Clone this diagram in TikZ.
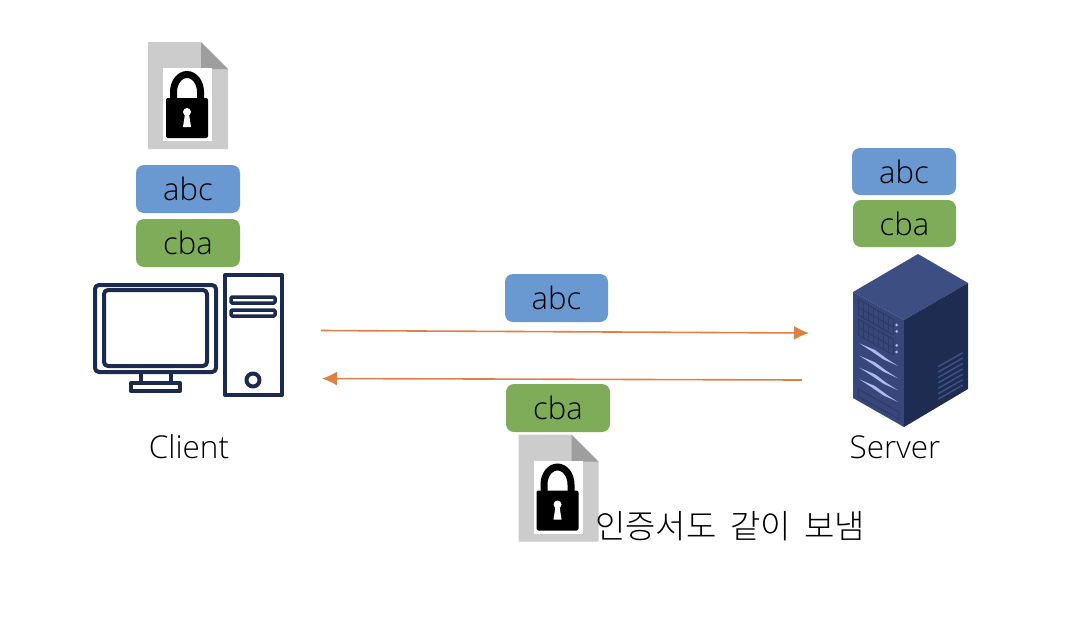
\documentclass[tikz,border=0pt]{standalone}
\usepackage{fontspec}
\setmainfont{Open Sans Light}
\newfontfamily\krfont{Noto Sans CJK KR Light}
\usetikzlibrary{arrows.meta}
\definecolor{boxblue}{HTML}{6A98D0}
\definecolor{boxgreen}{HTML}{7FAC58}
\definecolor{flow}{HTML}{E08044}
\definecolor{navy}{HTML}{1B2A4E}
\definecolor{srvtop}{HTML}{3D4F82}
\definecolor{srvleft}{HTML}{37477A}
\definecolor{srvright}{HTML}{1E2C52}
\definecolor{srvline}{HTML}{2C3A68}
\definecolor{srvlight}{HTML}{ADB9F2}
\definecolor{srvvent}{HTML}{3D4F82}
\tikzset{
  keybox/.style={rounded corners=8pt,minimum width=104pt,minimum height=48pt,inner sep=0pt,text=black,font=\fontsize{31}{32}\selectfont},
  abcbox/.style={keybox,fill=boxblue},
  cbabox/.style={keybox,fill=boxgreen},
  caption/.style={inner sep=0pt,text=black,font=\fontsize{31.5}{32}\selectfont},
  flowline/.style={flow,line width=1.6pt,-{Latex[length=15pt,width=14pt]}},
  icon/.style={navy,line width=4pt,line join=round},
  lockdoc/.pic={
    \fill[black!20] (148,42) -- (201,42) -- (228,69) -- (228,149) -- (148,149) -- cycle;
    \fill[black!38] (201,42) -- (228,69) -- (201,69) -- cycle;
    \fill[white] (163,68) rectangle (212,141);
    \draw[black,line width=7pt] (173.5,100) -- (173.5,92) arc[start angle=180,end angle=0,x radius=13.5,y radius=-17.5] -- (200.5,100);
    \fill[black,rounded corners=2pt] (166,98) rectangle (208,138);
    \fill[white] (187,112) circle[radius=4];
    \fill[white] (185,114) -- (189,114) -- (191,127) -- (183,127) -- cycle;
  }
}
\begin{document}
\begin{tikzpicture}[x=1pt,y=-1pt]
\useasboundingbox (0,0) rectangle (1084,622);
\fill[white] (0,0) rectangle (1084,622);

% documents with locks
\pic at (0,0) {lockdoc};
\pic at (370.5,392.5) {lockdoc};

% key boxes
\node[abcbox] (clientabc) at (188,189) {\raisebox{-1.5pt}{abc}};
\node[cbabox] (clientcba) at (188,243) {\raisebox{-1.5pt}{cba}};
\node[abcbox,minimum height=47pt] (serverabc) at (904,171.5) {\raisebox{-4pt}{abc}};
\node[cbabox,minimum height=47pt,minimum width=103pt] (servercba) at (904.5,223.5) {\raisebox{-4pt}{cba}};
\node[abcbox,minimum width=103pt] (midabc) at (556.5,298) {\raisebox{-2.5pt}{abc}};
\node[cbabox] (midcba) at (558,408) {\raisebox{-3pt}{cba}};

% client icon
\draw[icon,rounded corners=4pt] (95,285) rectangle (216,372);
\draw[icon,rounded corners=4pt] (104,290) rectangle (207,366);
\draw[icon] (141,372) -- (141,383) (171,372) -- (171,383);
\draw[icon] (131,383) rectangle (180,391);
\draw[icon] (225,275) rectangle (282,395);
\draw[icon,line width=3.5pt,rounded corners=1pt] (231,297) rectangle (275,303);
\draw[icon,line width=3.5pt,rounded corners=1pt] (231,310) rectangle (275,316);
\draw[icon] (253,380) circle[radius=6.5];

% server icon
\fill[srvtop] (918,254) -- (968,283) -- (904,320) -- (853,292) -- cycle;
\fill[srvleft] (853,292) -- (904,320) -- (904,427) -- (853,398) -- cycle;
\fill[srvright] (968,283) -- (968,389) -- (904,427) -- (904,320) -- cycle;
\begin{scope}[shift={(830,240)},x=0.3333pt,y=-0.3333pt]
  \draw[srvline,line width=1pt] (85,178) -- (190,238) -- (190,285) -- (85,225) -- cycle;
  \draw[srvline,line width=1pt] (85,238) -- (190,298) -- (190,345) -- (85,285) -- cycle;
  \foreach \i in {1,...,6}{
    \draw[srvline,line width=1pt] (85+15*\i,{178+8.6*\i}) -- ++(0,47);
    \draw[srvline,line width=1pt] (85+15*\i,{238+8.6*\i}) -- ++(0,47);
  }
  \draw[srvline,line width=1pt] (85,202) -- (190,262) (85,262) -- (190,322);
  \foreach \y in {255,274,316,336} \fill[srvlight] (200,\y) circle[radius=4.5];
  \foreach \y in {310,347,383,418}
    \fill[srvlight] (88,\y) -- (135,{\y+20}) -- (170,{\y+46}) -- (204,{\y+68}) -- (160,{\y+48}) -- (125,{\y+24}) -- cycle;
  \draw[srvline,line width=1pt] (85,448) -- (207,516) -- (207,537) -- (85,470) -- cycle;
  \foreach \i in {0,...,6}
    \draw[srvvent,line width=1.6pt] (325,{380+16.2*\i}) -- (398,{338+16.2*\i});
\end{scope}

% labels
\node[caption] (clientlabel) at (189,447) {Client};
\node[caption] (serverlabel) at (895,447) {Server};
\node[caption,anchor=west,font=\krfont\fontsize{33}{36}\selectfont] (note) at (595,526) {\spaceskip=13.5pt 인증서도 같이 보냄};

% flows
\coordinate (c1) at (321,330.5);
\coordinate (s1) at (809,333);
\coordinate (s2) at (802,380);
\coordinate (c2) at (322,378.5);
\draw[flowline] (c1) -- (s1);
\draw[flowline] (s2) -- (c2);
\end{tikzpicture}
\end{document}
